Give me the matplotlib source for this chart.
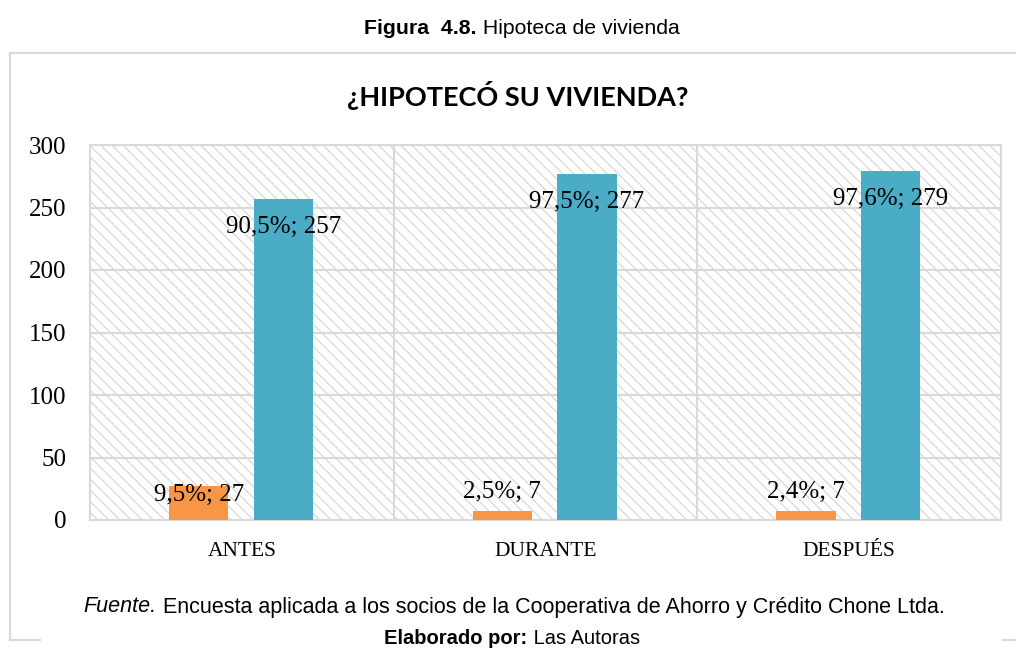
import matplotlib
matplotlib.use("Agg")
import matplotlib.pyplot as plt
from matplotlib.patches import Rectangle
from matplotlib.lines import Line2D
import numpy as np

categories = ["ANTES", "DURANTE", "DESPUÉS"]
si_values = [27, 7, 7]
no_values = [257, 277, 279]
si_labels = ["9,5%; 27", "2,5%; 7", "2,4%; 7"]
no_labels = ["90,5%; 257", "97,5%; 277", "97,6%; 279"]
yticks = [0, 50, 100, 150, 200, 250, 300]

ORANGE = "#F79646"
TEAL = "#4BACC6"
GRID = "#D9D9D9"

plt.rcParams["hatch.linewidth"] = 0.8
plt.rcParams["hatch.color"] = "#D4D4D4"

W, H = 1016, 650
fig = plt.figure(figsize=(W / 100, H / 100), dpi=100)

def fx(px):
    return px / W

def fy(py):
    return 1 - py / H

# outer frame
for xs, ys in [((10, 1030), (53, 53)), ((10, 10), (53, 640)),
               ((10, 40), (640, 640)), ((1003, 1030), (640, 640))]:
    fig.add_artist(Line2D([fx(x) for x in xs], [fy(y) for y in ys],
                          color=GRID, lw=1.5, transform=fig.transFigure))

ax = fig.add_axes([fx(90), fy(520), fx(1001) - fx(90), fy(145) - fy(520)])
ax.set_facecolor("white")
ax.add_patch(Rectangle((0, 0), 1, 1, transform=ax.transAxes, facecolor="white",
                       edgecolor="#D4D4D4", hatch="\\\\\\", lw=0, zorder=0))

x = np.arange(len(categories))
bw = 0.195
ax.bar(x - 0.142, si_values, width=bw, color=ORANGE, zorder=3)
ax.bar(x + 0.137, no_values, width=bw, color=TEAL, zorder=3)

ax.set_xlim(-0.5, 2.5)
ax.set_ylim(0, 300)
ax.set_yticks(yticks)
ax.set_xticks(x)
ax.set_xticklabels(categories, fontfamily="Liberation Serif", fontsize=15.5)
for t in ax.get_yticklabels():
    t.set_fontfamily("Liberation Serif")
    t.set_fontsize(18)
ax.tick_params(axis="both", length=0, colors="black")
ax.tick_params(axis="y", pad=17)
ax.tick_params(axis="x", pad=16)

ax.grid(axis="y", color=GRID, lw=1.5, zorder=1)
for b in [0.5, 1.5]:
    ax.axvline(b, color=GRID, lw=1.5, zorder=1)
for s in ax.spines.values():
    s.set_color(GRID)
    s.set_linewidth(1.5)

# data labels
si_off = [-6, 14, 14]
no_off = [-20, -20, -20]
for i in range(len(categories)):
    ax.annotate(si_labels[i], (x[i] - 0.142, si_values[i]), xytext=(0, si_off[i]),
                textcoords="offset points", ha="center", va="center",
                fontfamily="Liberation Serif", fontsize=18, zorder=5)
    ax.annotate(no_labels[i], (x[i] + 0.137, no_values[i]), xytext=(0, no_off[i]),
                textcoords="offset points", ha="center", va="center",
                fontfamily="Liberation Serif", fontsize=18, zorder=5)

fig.text(fx(518), fy(95), "¿HIPOTECÓ SU VIVIENDA?", ha="center", va="center",
         fontfamily="Lato", fontweight="bold", fontsize=19.5)

renderer = fig.canvas.get_renderer()

def rich_line(parts, y_px, size, center_px):
    texts = []
    for s, kw in parts:
        t = fig.text(0, fy(y_px), s, ha="left", va="center", fontsize=size,
                     fontfamily=["Liberation Sans Narrow", "Liberation Sans"], **kw)
        texts.append(t)
    widths = [t.get_window_extent(renderer).width for t in texts]
    total = sum(widths)
    xpos = center_px - total / 2
    for t, w in zip(texts, widths):
        t.set_x(xpos / W)
        xpos += w

rich_line([("Figura  4.8.", {"fontweight": "bold"}),
           (" Hipoteca de vivienda", {})], 28, 15.3, 522)
rich_line([("Fuente.", {"fontstyle": "italic"}),
           (" Encuesta aplicada a los socios de la Cooperativa de Ahorro y Crédito Chone Ltda.", {})],
          607, 15.5, 514)
rich_line([("Elaborado por:", {"fontweight": "bold"}),
           (" Las Autoras", {})], 638, 14.5, 512)

fig.savefig("out.png", dpi=100)
